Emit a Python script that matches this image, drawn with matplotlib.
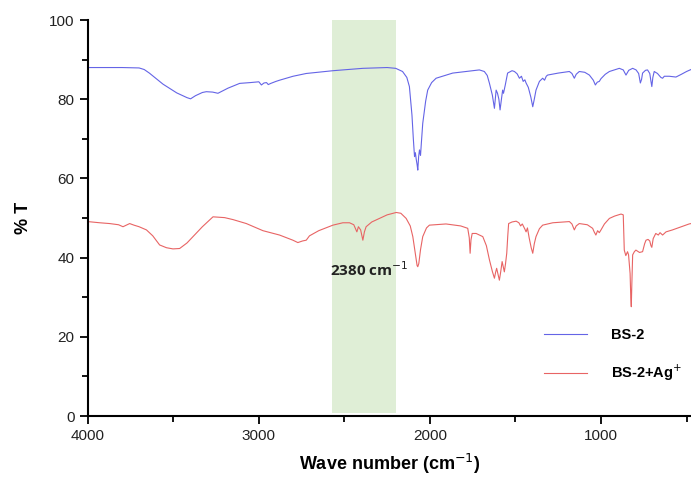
import matplotlib
matplotlib.use("Agg")
import matplotlib.pyplot as plt
import matplotlib.ticker as ticker

# ── spectra (wavenumber cm-1, %T) ───────────────────────────
BS2_WN = [4000, 3800, 3700, 3670, 3640, 3560, 3480, 3420, 3399, 3370,
          3330, 3307, 3270, 3239, 3180, 3112, 3050, 3000, 2985, 2970,
          2955, 2945, 2930, 2900, 2879, 2800, 2723, 2567, 2392, 2250,
          2200, 2160, 2135, 2120, 2105, 2097, 2090, 2085, 2080, 2075,
          2071, 2066, 2061, 2055, 2050, 2042, 2025, 2013, 1990, 1964,
          1867, 1711, 1682, 1665, 1652, 1635, 1623, 1618, 1613, 1605,
          1597, 1590, 1582, 1575, 1570, 1560, 1546, 1520, 1506, 1490,
          1477, 1465, 1455, 1445, 1438, 1425, 1410, 1399, 1390, 1380,
          1360, 1341, 1330, 1320, 1312, 1250, 1185, 1170, 1156, 1145,
          1127, 1095, 1068, 1045, 1033, 1022, 1010, 1000, 975, 951,
          893, 870, 854, 838, 815, 795, 780, 770, 763, 757,
          740, 728, 715, 708, 703, 697, 689, 670, 650, 640,
          630, 601, 562, 530, 500, 474]
BS2_T = [88.0, 88.0, 87.9, 87.5, 86.6, 83.8, 81.6, 80.4, 80.1, 80.9,
         81.7, 81.9, 81.8, 81.5, 82.8, 84.0, 84.2, 84.4, 83.6, 84.1,
         84.2, 83.7, 84.0, 84.5, 84.8, 85.8, 86.5, 87.2, 87.8, 88.0,
         87.8, 87.0, 85.5, 83.2, 76.0, 70.0, 65.5, 66.5, 64.8, 63.5,
         62.1, 65.5, 67.2, 65.8, 69.0, 73.9, 79.5, 82.3, 84.2, 85.3,
         86.6, 87.4, 87.0, 86.0, 84.0, 81.0, 77.7, 80.0, 82.3, 81.5,
         80.0, 77.3, 80.0, 82.3, 81.5, 83.5, 86.6, 87.2, 87.0, 86.4,
         85.3, 85.8, 84.5, 84.9, 84.1, 83.0, 80.5, 78.1, 80.0, 82.3,
         84.5, 85.3, 84.8, 85.8, 86.1, 86.6, 87.0, 86.5, 85.3, 86.3,
         87.0, 86.8, 86.1, 84.8, 83.6, 84.3, 84.5, 85.2, 86.3, 87.0,
         87.8, 87.4, 86.1, 87.3, 87.8, 87.4, 86.5, 84.1, 85.0, 86.6,
         87.3, 87.4, 86.5, 84.5, 83.2, 85.5, 87.0, 86.5, 85.5, 85.3,
         85.8, 85.8, 85.6, 86.3, 87.0, 87.5]

AG_WN = [4000, 3930, 3872, 3820, 3794, 3770, 3755, 3730, 3700, 3657,
         3620, 3580, 3540, 3502, 3463, 3420, 3385, 3330, 3268, 3200,
         3151, 3073, 2976, 2879, 2801, 2772, 2745, 2723, 2704, 2650,
         2567, 2509, 2470, 2445, 2427, 2418, 2405, 2392, 2383, 2373,
         2340, 2295, 2250, 2197, 2170, 2139, 2115, 2100, 2085, 2075,
         2071, 2065, 2055, 2042, 2020, 2003, 1906, 1820, 1779, 1770,
         1765, 1760, 1753, 1730, 1691, 1670, 1652, 1635, 1623, 1616,
         1610, 1602, 1594, 1586, 1578, 1572, 1565, 1558, 1551, 1545,
         1540, 1520, 1496, 1480, 1470, 1460, 1445, 1438, 1430, 1420,
         1408, 1399, 1390, 1380, 1360, 1341, 1282, 1185, 1170, 1156,
         1145, 1127, 1080, 1049, 1040, 1030, 1020, 1010, 1000, 980,
         951, 920, 883, 870, 866, 864, 855, 845, 839, 830,
         826, 823, 820, 815, 805, 796, 775, 757, 745, 737,
         725, 715, 708, 703, 695, 680, 665, 655, 640, 620,
         582, 530, 485, 474]
AG_T = [49.1, 48.8, 48.6, 48.3, 47.8, 48.3, 48.6, 48.2, 47.8, 47.0,
        45.5, 43.2, 42.5, 42.2, 42.3, 43.7, 45.3, 47.8, 50.3, 50.1,
        49.6, 48.6, 46.8, 45.7, 44.4, 43.8, 44.2, 44.4, 45.5, 46.8,
        48.2, 48.8, 48.8, 48.3, 46.5, 47.8, 47.0, 44.4, 46.5, 47.8,
        49.0, 49.9, 50.8, 51.4, 51.2, 49.9, 48.0, 45.3, 41.0, 38.0,
        37.7, 38.5, 42.0, 45.3, 47.5, 48.2, 48.5, 48.0, 47.4, 45.0,
        41.1, 44.5, 46.1, 46.1, 45.3, 43.0, 39.4, 36.5, 34.8, 36.3,
        37.3, 35.8, 34.3, 36.5, 39.0, 37.8, 36.4, 38.5, 41.1, 45.5,
        48.6, 49.0, 49.2, 48.8, 48.0, 48.5, 47.2, 46.5, 47.5, 45.0,
        42.5, 41.1, 43.5, 45.3, 47.3, 48.2, 48.8, 49.1, 48.5, 47.0,
        48.0, 48.6, 48.3, 47.4, 46.5, 45.7, 46.8, 46.3, 47.0, 48.5,
        49.9, 50.5, 51.0, 50.8, 45.0, 41.9, 40.5, 41.5, 40.7, 36.0,
        30.0, 27.6, 33.0, 40.7, 41.5, 41.9, 41.3, 41.5, 43.5, 44.4,
        44.6, 44.2, 43.0, 42.6, 44.8, 46.1, 45.7, 46.3, 45.7, 46.5,
        47.0, 47.8, 48.5, 48.6]

BAND = (2570, 2198)          # highlighted region
BAND_LABEL = "2380 cm$^{-1}$"
LABELS = ["BS-2", "BS-2+Ag$^{+}$"]
COLORS = ["#6464e6", "#e86464"]

plt.rcParams["font.family"] = ["Liberation Sans", "DejaVu Sans"]

fig = plt.figure(figsize=(6.91, 4.79), dpi=100)
ax = fig.add_axes([0.127, 0.1315, 0.873, 0.8267])

ax.axvspan(BAND[0], BAND[1], ymin=0.008, ymax=1, color="#dfeed6", lw=0, zorder=0)

ax.plot(BS2_WN, BS2_T, color=COLORS[0], lw=0.8, label=LABELS[0])
ax.plot(AG_WN, AG_T, color=COLORS[1], lw=0.8, label=LABELS[1])

ax.text(2355, 37.0, BAND_LABEL, ha="center", va="center", fontsize=11,
        fontweight="bold", family=["Open Sans", "DejaVu Sans"], color="#222222")

ax.set_xlim(4000, 474)
ax.set_ylim(0, 100)
ax.xaxis.set_major_locator(ticker.MultipleLocator(1000))
ax.xaxis.set_minor_locator(ticker.MultipleLocator(500))
ax.yaxis.set_major_locator(ticker.MultipleLocator(20))
ax.yaxis.set_minor_locator(ticker.MultipleLocator(10))

for side in ("top", "right"):
    ax.spines[side].set_visible(False)
for side in ("left", "bottom"):
    ax.spines[side].set_linewidth(1.5)

ax.tick_params(which="major", direction="out", length=6, width=1.3,
               labelsize=11, labelcolor="#222222")
ax.tick_params(which="minor", direction="out", length=4, width=1.3)

ax.set_xlabel("Wave number (cm$^{-1}$)", fontsize=13, fontweight="bold", labelpad=6)
ax.set_ylabel("% T", fontsize=13, fontweight="bold", labelpad=12)

leg = ax.legend(loc="lower left", bbox_to_anchor=(0.735, 0.05), frameon=False,
                handlelength=2.9, handletextpad=1.7, labelspacing=1.4,
                prop={"weight": "bold", "size": 10.5})

fig.savefig("out.png", dpi=100)
